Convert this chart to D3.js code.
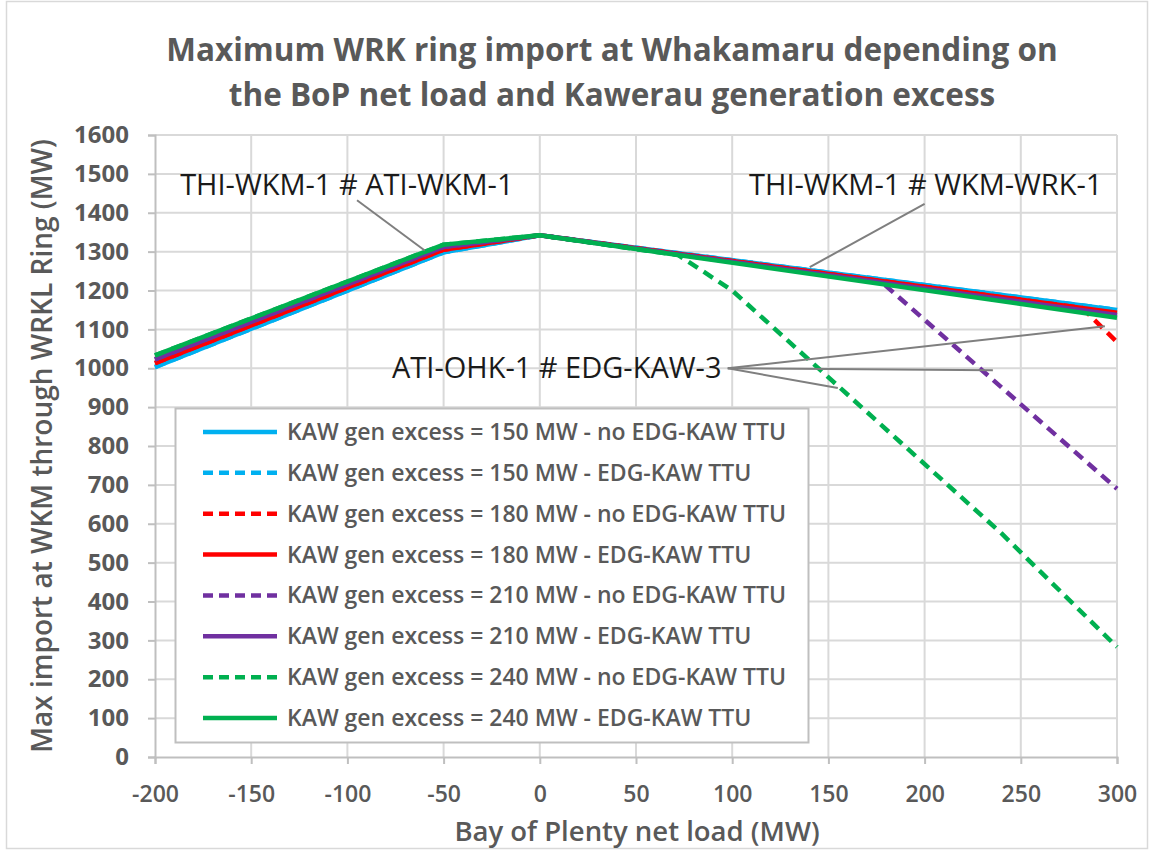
<!DOCTYPE html>
<html>
<head>
<meta charset="utf-8">
<script src="https://cdn.jsdelivr.net/npm/d3@7"></script>
<style>
  html, body { margin: 0; padding: 0; background: #fff; }
  svg { display: block; }
</style>
</head>
<body>
<svg id="chart" width="1153" height="852"></svg>
<script>
// ---------- data ----------
const titleLines = ["Maximum WRK ring import at Whakamaru depending on", "the BoP net load and Kawerau generation excess"];
const xAxisTitle = "Bay of Plenty net load (MW)";
const yAxisTitle = "Max import at WKM through WRKL Ring (MW)";
const xTicks = [-200, -150, -100, -50, 0, 50, 100, 150, 200, 250, 300];
const yTicks = [0, 100, 200, 300, 400, 500, 600, 700, 800, 900, 1000, 1100, 1200, 1300, 1400, 1500, 1600];

const seriesLabels = [
  "KAW gen excess = 150 MW - no EDG-KAW TTU",
  "KAW gen excess = 150 MW - EDG-KAW TTU",
  "KAW gen excess = 180 MW - no EDG-KAW TTU",
  "KAW gen excess = 180 MW - EDG-KAW TTU",
  "KAW gen excess = 210 MW - no EDG-KAW TTU",
  "KAW gen excess = 210 MW - EDG-KAW TTU",
  "KAW gen excess = 240 MW - no EDG-KAW TTU",
  "KAW gen excess = 240 MW - EDG-KAW TTU"
];
const seriesColors = ["#00B0F0", "#00B0F0", "#FF0000", "#FF0000", "#7030A0", "#7030A0", "#00B050", "#00B050"];
const seriesDashed = [false, true, true, false, true, false, true, false];

// x values (BoP net load, MW) and y values (max import, MW) per series
const load150NoTTU = [-200, -50, 0, 300];
const imp150NoTTU  = [1003, 1298, 1342, 1150];
const load150TTU   = [-200, -50, 0, 300];
const imp150TTU    = [1003, 1298, 1342, 1150];
const load180NoTTU = [-200, -50, 0, 282, 300];
const imp180NoTTU  = [1013, 1305, 1342, 1155, 1067];
const load180TTU   = [-200, -50, 0, 300];
const imp180TTU    = [1013, 1305, 1342, 1143];
const load210NoTTU = [-200, -50, 0, 178, 300];
const imp210NoTTU  = [1023, 1312, 1342, 1220, 690];
const load210TTU   = [-200, -50, 0, 300];
const imp210TTU    = [1023, 1312, 1342, 1137];
const load240NoTTU = [-200, -50, 0, 72, 100, 240, 300];
const imp240NoTTU  = [1033, 1318, 1342, 1291, 1200, 575, 283];
const load240TTU   = [-200, -50, 0, 300];
const imp240TTU    = [1033, 1318, 1342, 1130];

const seriesX = [load150NoTTU, load150TTU, load180NoTTU, load180TTU, load210NoTTU, load210TTU, load240NoTTU, load240TTU];
const seriesY = [imp150NoTTU, imp150TTU, imp180NoTTU, imp180TTU, imp210NoTTU, imp210TTU, imp240NoTTU, imp240TTU];

// annotations: text, text anchor (data coords), leader lines [from, to] in data coords
const annoTexts = ["THI-WKM-1 # ATI-WKM-1", "THI-WKM-1 # WKM-WRK-1", "ATI-OHK-1 # EDG-KAW-3"];
const annoTextPos = [[-100.3, 1445], [200.6, 1445], [8.8, 975]];
const annoLeaders = [
  [[[-95, 1432], [-59.8, 1303]]],
  [[[200, 1423], [140.3, 1260]]],
  [[[97.7, 1000], [293.7, 1108]], [[97.7, 1000], [235.5, 995]], [[97.7, 1000], [154.9, 949]]]
];

// ---------- drawing ----------
const svg = d3.select("#chart");
const W = 1153, H = 852;
const plot = { left: 155, right: 1117, top: 135, bottom: 757 };
const x = d3.scaleLinear().domain([-200, 300]).range([plot.left, plot.right]);
const y = d3.scaleLinear().domain([0, 1600]).range([plot.bottom, plot.top]);

const gray = "#595959";
const fontMain = "'Open Sans', 'Noto Sans', sans-serif";

svg.append("rect").attr("x", 0).attr("y", 0).attr("width", W).attr("height", H).attr("fill", "#fff");
svg.append("rect").attr("x", 6.5).attr("y", 1.5).attr("width", 1141).attr("height", 847)
  .attr("fill", "none").attr("stroke", "#d9d9d9").attr("stroke-width", 1.5);

// gridlines
const grid = svg.append("g");
grid.selectAll("line.v").data(xTicks.slice(1)).join("line")
  .attr("x1", d => x(d)).attr("x2", d => x(d)).attr("y1", plot.top).attr("y2", plot.bottom)
  .attr("stroke", "#d9d9d9").attr("stroke-width", 2);
grid.selectAll("line.h").data(yTicks.slice(1)).join("line")
  .attr("x1", plot.left).attr("x2", plot.right).attr("y1", d => y(d)).attr("y2", d => y(d))
  .attr("stroke", "#d9d9d9").attr("stroke-width", 2);

// axes
const fmt = d => String(d);
const xAxis = d3.axisBottom(x).tickValues(xTicks).tickSize(7).tickPadding(22).tickFormat(fmt);
const yAxis = d3.axisLeft(y).tickValues(yTicks).tickSize(7).tickPadding(19).tickFormat(fmt);
const gx = svg.append("g").attr("transform", `translate(0,${plot.bottom})`).call(xAxis);
const gy = svg.append("g").attr("transform", `translate(${plot.left},0)`).call(yAxis);
[gx, gy].forEach(g => {
  g.select(".domain").attr("stroke", "#bfbfbf").attr("stroke-width", 2);
  g.selectAll(".tick line").attr("stroke", "#bfbfbf").attr("stroke-width", 2);
  g.selectAll(".tick text").attr("fill", gray).attr("font-family", fontMain)
    .attr("font-weight", 700).attr("font-size", 24);
});
gx.selectAll(".tick text").attr("font-size", 23).attr("font-weight", 600);

// series lines
const lineGen = d3.line().x(d => x(d[0])).y(d => y(d[1]));
const linesG = svg.append("g");
seriesLabels.forEach((lab, i) => {
  const pts = seriesX[i].map((v, k) => [v, seriesY[i][k]]);
  linesG.append("path").datum(pts)
    .attr("d", lineGen).attr("fill", "none")
    .attr("stroke", seriesColors[i]).attr("stroke-width", 4.5)
    .attr("stroke-linejoin", "round")
    .attr("stroke-dasharray", seriesDashed[i] ? "11,7" : null);
});

// annotations
const annoG = svg.append("g");
annoLeaders.forEach(group => group.forEach(seg => {
  annoG.append("line")
    .attr("x1", x(seg[0][0])).attr("y1", y(seg[0][1]))
    .attr("x2", x(seg[1][0])).attr("y2", y(seg[1][1]))
    .attr("stroke", "#7f7f7f").attr("stroke-width", 2);
}));
annoTexts.forEach((t, i) => {
  annoG.append("text").attr("x", x(annoTextPos[i][0])).attr("y", y(annoTextPos[i][1]))
    .attr("text-anchor", "middle").attr("font-family", fontMain).attr("font-size", 29)
    .attr("fill", "#1a1a1a").text(t);
});

// legend
const lg = svg.append("g");
lg.append("rect").attr("x", 175.5).attr("y", 408.5).attr("width", 633).attr("height", 334)
  .attr("fill", "#fff").attr("stroke", "#bfbfbf").attr("stroke-width", 2);
const rowY = d3.scaleLinear().domain([0, 7]).range([432, 718]);
seriesLabels.forEach((lab, i) => {
  lg.append("line").attr("x1", 203).attr("x2", 277).attr("y1", rowY(i)).attr("y2", rowY(i))
    .attr("stroke", seriesColors[i]).attr("stroke-width", 4.5)
    .attr("stroke-dasharray", seriesDashed[i] ? "10,6" : null);
  lg.append("text").attr("x", 287).attr("y", rowY(i)).attr("dy", "0.35em")
    .attr("font-family", fontMain).attr("font-size", 23).attr("font-weight", 600)
    .attr("fill", gray).text(lab);
});

// titles
titleLines.forEach((t, i) => {
  svg.append("text").attr("x", 612).attr("y", 61 + i * 45).attr("text-anchor", "middle")
    .attr("font-family", fontMain).attr("font-size", 31.5).attr("font-weight", 700)
    .attr("fill", gray).text(t);
});
svg.append("text").attr("x", 637).attr("y", 841).attr("text-anchor", "middle")
  .attr("font-family", fontMain).attr("font-size", 27.5).attr("font-weight", 600)
  .attr("fill", gray).text(xAxisTitle);
svg.append("text").attr("transform", `translate(52,${(plot.top + plot.bottom) / 2}) rotate(-90)`)
  .attr("text-anchor", "middle")
  .attr("font-family", fontMain).attr("font-size", 28).attr("font-weight", 600)
  .attr("fill", gray).text(yAxisTitle);
</script>
</body>
</html>
